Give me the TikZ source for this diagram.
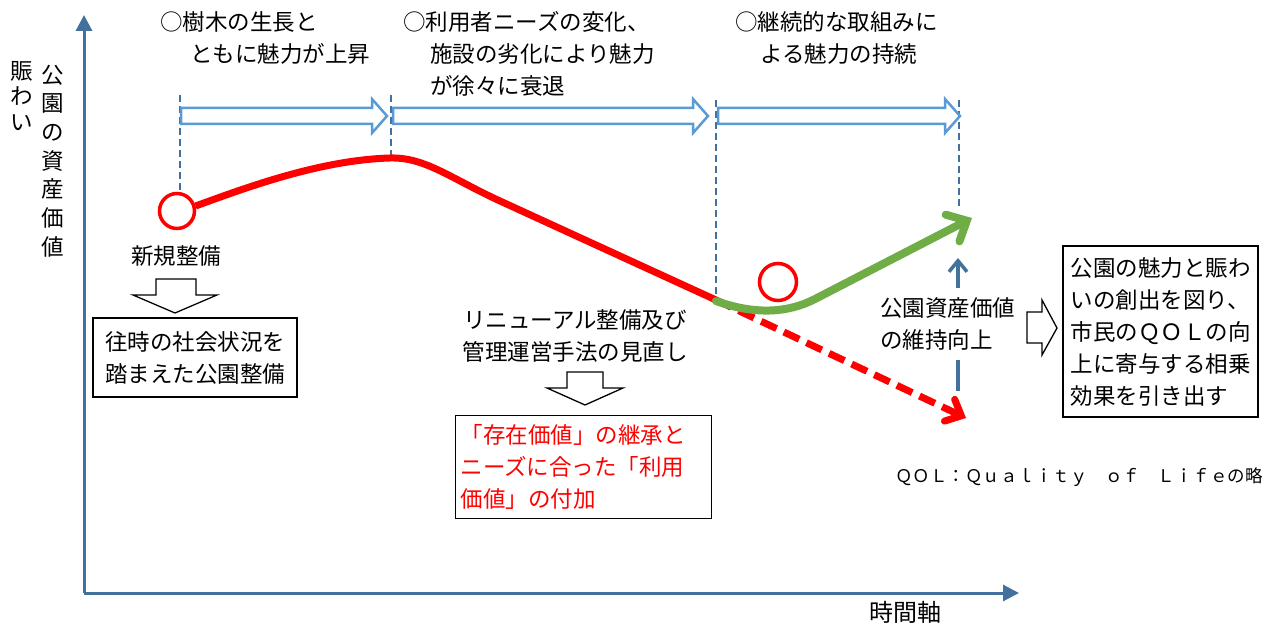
\documentclass[tikz,border=0pt]{standalone}
\usepackage{fontspec}
\setmainfont{Noto Sans CJK JP}
\usetikzlibrary{arrows.meta}
\definecolor{axisblue}{RGB}{65,113,156}
\definecolor{bandblue}{RGB}{91,155,213}
\definecolor{grn}{RGB}{112,173,71}
\definecolor{rd}{RGB}{255,0,0}
\newcommand\bandR[3]{\draw[bandarrow] (#1,#3-8) -- (#2-15,#3-8) -- (#2-15,#3-17) -- (#2,#3) -- (#2-15,#3+17) -- (#2-15,#3+8) -- (#1,#3+8) -- cycle;}
\begin{document}
\begin{tikzpicture}[x=1pt,y=-1pt,
  jp/.style={font=\fontsize{22.5}{32}\selectfont, inner sep=0pt},
  framed/.style={draw=black, line width=1.2pt, inner sep=6pt},
  axisline/.style={draw=axisblue, line width=3pt, -{Triangle[length=16pt,width=16pt]}},
  guide/.style={draw=axisblue, line width=2pt, dash pattern=on 7pt off 4pt},
  bandarrow/.style={draw=bandblue, line width=2.5pt, fill=white, line join=miter},
  hollowblack/.style={draw=black, line width=1.3pt, fill=white, line join=miter},
  ring/.style={circle, draw=rd, line width=3.5pt, inner sep=0pt},
  redcurve/.style={draw=rd, line width=7pt},
  reddash/.style={draw=rd, line width=7pt, dash pattern=on 17pt off 8pt, -{Straight Barb[length=13pt,width=24pt,line cap=round]}},
  greencurve/.style={draw=grn, line width=8pt, line cap=round, -{Straight Barb[length=16pt,width=30pt,line cap=round]}},
  uparrow/.style={draw=axisblue, line width=3.5pt, -{Straight Barb[length=11pt,width=18pt]}}
]
\useasboundingbox (0,0) rectangle (1278,628);
\fill[white] (0,0) rectangle (1278,628);

% axes
\coordinate (O) at (84,593);
\coordinate (ytip) at (84,15);
\coordinate (xtip) at (1019,593);
\draw[axisline] (O) -- (ytip);
\draw[axisline] (O) -- (xtip);
\node[jp, font=\fontsize{24}{28}\selectfont] (timeaxis) at (905,612) {時間軸};

% vertical axis labels
\node[jp, font=\fontsize{22.5}{25.5}\selectfont, align=center] (nigiwai) at (22,96) {賑\\わ\\い};
\node[jp, font=\fontsize{22.5}{28.7}\selectfont, align=center] (shisan) at (53,161) {公\\園\\の\\資\\産\\価\\値};

% top texts
\node[jp, align=left, anchor=west] (t1) at (160,38) {○樹木の生長と\\\hspace*{30pt}ともに魅力が上昇};
\node[jp, align=left, anchor=west] (t2) at (403,54) {○利用者ニーズの変化、\\\hspace*{27pt}施設の劣化により魅力\\\hspace*{27pt}が徐々に衰退};
\node[jp, align=left, anchor=west] (t3) at (735,38) {○継続的な取組みに\\\hspace*{25pt}よる魅力の持続};

% dashed guides
\coordinate (g1a) at (180,95);  \coordinate (g1b) at (180,191);
\coordinate (g2a) at (391,95);  \coordinate (g2b) at (391,156);
\coordinate (g3a) at (716,100); \coordinate (g3b) at (716,298);
\coordinate (g4a) at (959,100); \coordinate (g4b) at (959,208);
\draw[guide] (g1a) -- (g1b);
\draw[guide] (g2a) -- (g2b);
\draw[guide] (g3a) -- (g3b);
\draw[guide] (g4a) -- (g4b);

% band arrows
\bandR{181}{387}{116}
\bandR{393}{708}{116}
\bandR{718}{960}{116}

% red curve
\node[ring, minimum size=35pt] (c1) at (177,211) {};
\coordinate (peak) at (390,158);
\coordinate (bend) at (500,201);
\coordinate (split) at (716,300);
\coordinate (redtip) at (966,418);
\draw[redcurve] (c1.15) .. controls (245,188) and (320,160) .. (peak)
  .. controls (425,157) and (450,178) .. (bend) -- (split);
\draw[reddash] (split) -- (redtip);

% green curve
\node[ring, minimum size=37pt] (c2) at (778,282) {};
\coordinate (gstart) at (716,301);
\coordinate (gturn) at (815,299);
\coordinate (gtip) at (972,218);
\draw[greencurve] (gstart) .. controls (755,315) and (788,313) .. (gturn) -- (gtip);

% blue up arrow with label
\coordinate (ubot) at (958,391);
\coordinate (utop) at (958,258);
\draw[uparrow] (ubot) -- (utop);
\node[jp, align=left, anchor=west, fill=white, inner ysep=10pt] (iji) at (880,324) {公園資産価値\\の維持向上};

% new construction
\node[jp] (shinki) at (176,256) {新規整備};
\draw[hollowblack] (156,279) -- (196,279) -- (196,295) -- (217,295) -- (175,313) -- (133,295) -- (156,295) -- cycle;
\node[jp, framed, align=center, minimum width=204pt, minimum height=79pt] (box1) at (195,357.5) {往時の社会状況を\\踏まえた公園整備};

% renewal
\node[jp, align=center] (renew) at (575,336) {リニューアル整備及び\\管理運営手法の見直し};
\draw[hollowblack] (567,372) -- (603,372) -- (603,388) -- (623,388) -- (585,405) -- (547,388) -- (567,388) -- cycle;
\node[jp, framed, text=rd, align=left, anchor=north west, minimum width=256pt, minimum height=103pt, inner xsep=5pt, inner ysep=6pt, text width=246pt] (box2) at (455,415) {「存在価値」の継承と\\ニーズに合った「利用\\価値」の付加};

% result
\draw[hollowblack] (1027,312) -- (1042,312) -- (1042,300) -- (1057,328) -- (1042,355) -- (1042,343) -- (1027,343) -- cycle;
\node[jp, framed, align=left, minimum width=195pt, minimum height=171pt] (box3) at (1160.5,331.5) {公園の魅力と賑わ\\いの創出を図り、\\市民のＱＯＬの向\\上に寄与する相乗\\効果を引き出す};

% note
\node[inner sep=0pt, font=\fontsize{17.5}{20}\selectfont, anchor=east] (note) at (1263,477) {ＱＯＬ：Ｑｕａｌｉｔｙ　ｏｆ　Ｌｉｆｅの略};
\end{tikzpicture}
\end{document}
